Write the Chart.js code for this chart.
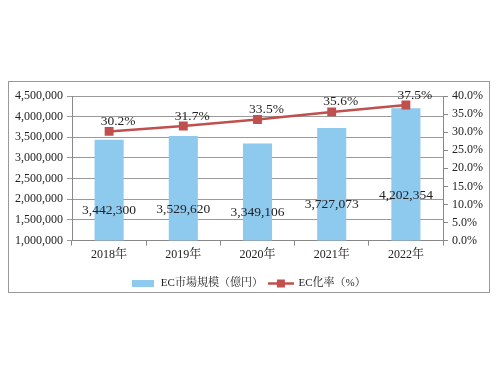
<!DOCTYPE html>
<html>
<head>
<meta charset="utf-8">
<script src="https://cdn.jsdelivr.net/npm/chart.js@4.4.0/dist/chart.umd.min.js"></script>
<style>
  html, body { margin: 0; padding: 0; background: #fff; }
  #wrap { width: 500px; height: 375px; }
</style>
</head>
<body>
<div id="wrap"><canvas id="myChart" width="500" height="375"></canvas></div>
<script>
// data
var years = ['2018年', '2019年', '2020年', '2021年', '2022年'];
var marketSize = [3442300, 3529620, 3349106, 3727073, 4202354];
var ecRate = [30.2, 31.7, 33.5, 35.6, 37.5];
var seriesNames = ['EC市場規模（億円）', 'EC化率（%）'];

var FONT = '"Liberation Serif", "DejaVu Serif", "Noto Serif CJK JP", "Noto Sans CJK JP", serif';
var barColor = '#8EC9EE';
var lineColor = '#C0504D';
var textColor = '#222';

function barIcon() {
  var c = document.createElement('canvas');
  c.width = 22; c.height = 7;
  var ctx = c.getContext('2d');
  ctx.fillStyle = barColor;
  ctx.fillRect(0, 0, 22, 7);
  return c;
}

function lineIcon() {
  var c = document.createElement('canvas');
  c.width = 26; c.height = 9;
  var ctx = c.getContext('2d');
  ctx.strokeStyle = lineColor;
  ctx.lineWidth = 2.5;
  ctx.beginPath();
  ctx.moveTo(0, 4.5);
  ctx.lineTo(26, 4.5);
  ctx.stroke();
  ctx.fillStyle = lineColor;
  ctx.fillRect(9, 0.5, 8, 8);
  return c;
}

var framePlugin = {
  id: 'frame',
  beforeDraw: function (chart) {
    var ctx = chart.ctx;
    ctx.save();
    ctx.strokeStyle = '#999';
    ctx.lineWidth = 1;
    ctx.strokeRect(8.5, 81.5, 481, 211);
    ctx.restore();
  }
};

var labelPlugin = {
  id: 'valueLabels',
  afterDatasetsDraw: function (chart) {
    var ctx = chart.ctx;
    ctx.save();
    ctx.font = '13.5px ' + FONT;
    ctx.fillStyle = textColor;
    ctx.textAlign = 'center';
    ctx.textBaseline = 'middle';
    var bars = chart.getDatasetMeta(1).data;
    for (var i = 0; i < bars.length; i++) {
      var b = bars[i];
      var mid = (b.y + b.base) / 2;
      ctx.fillText(marketSize[i].toLocaleString('en-US'), b.x, mid);
    }
    var pts = chart.getDatasetMeta(0).data;
    for (var j = 0; j < pts.length; j++) {
      var p = pts[j];
      ctx.fillText(ecRate[j].toFixed(1) + '%', p.x + 9, p.y - 10);
    }
    ctx.restore();
  }
};

const chart_data = {
  labels: years,
  datasets: [{
    type: 'line',
    label: seriesNames[1],
    data: ecRate,
    yAxisID: 'y1',
    borderColor: lineColor,
    backgroundColor: lineColor,
    borderWidth: 2.5,
    pointStyle: 'rect',
    pointRadius: 4.5,
    pointBackgroundColor: lineColor,
    pointBorderColor: lineColor,
    tension: 0,
    order: 0
  }, {
    type: 'bar',
    label: seriesNames[0],
    data: marketSize,
    yAxisID: 'y',
    backgroundColor: barColor,
    borderWidth: 0,
    categoryPercentage: 0.8,
    barPercentage: 0.49,
    order: 1
  }]
};

const config = {
  data: chart_data,
  options: {
    responsive: false,
    animation: false,
    layout: { padding: { left: 0, right: 3, top: 96, bottom: 76 } },
    plugins: {
      legend: {
        position: 'bottom',
        reverse: true,
        labels: {
          usePointStyle: true,
          pointStyleWidth: 24,
          color: textColor,
          font: { family: FONT, size: 11 },
          padding: 6,
          generateLabels: function (chart) {
            var items = Chart.defaults.plugins.legend.labels.generateLabels(chart);
            items.forEach(function (it) {
              it.pointStyle = it.datasetIndex === 0 ? lineIcon() : barIcon();
            });
            return items;
          }
        }
      },
      tooltip: { enabled: false }
    },
    scales: {
      x: {
        offset: true,
        afterFit: function (s) { s.height += 8; },
        grid: { display: true, drawOnChartArea: false, offset: true, color: '#888', tickLength: 5 },
        border: { color: '#888' },
        ticks: { color: textColor, font: { family: FONT, size: 12 }, padding: 2 }
      },
      y: {
        position: 'left',
        min: 1000000,
        max: 4500000,
        afterFit: function (s) { s.width = 72; },
        ticks: {
          stepSize: 500000,
          color: textColor,
          font: { family: FONT, size: 12 },
          padding: 4,
          callback: function (v) { return v.toLocaleString('en-US'); }
        },
        grid: { color: '#9a9a9a', tickLength: 5 },
        border: { color: '#888' }
      },
      y1: {
        position: 'right',
        min: 0,
        max: 40,
        afterFit: function (s) { s.width = 54; },
        ticks: {
          stepSize: 5,
          color: textColor,
          font: { family: FONT, size: 12 },
          padding: 4,
          callback: function (v) { return v.toFixed(1) + '%'; }
        },
        grid: { drawOnChartArea: false, color: '#888', tickLength: 5 },
        border: { color: '#888' }
      }
    }
  },
  plugins: [framePlugin, labelPlugin]
};

const myChart = new Chart(document.getElementById('myChart'), config);
</script>
</body>
</html>
